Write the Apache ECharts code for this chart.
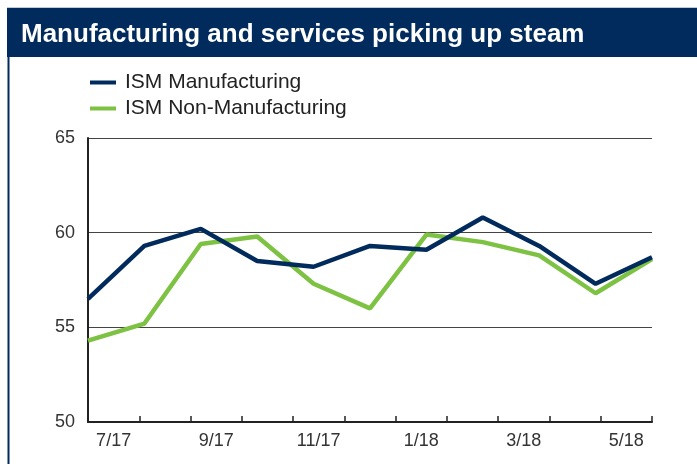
<!DOCTYPE html>
<html>
<head>
<meta charset="utf-8">
<script src="https://cdn.jsdelivr.net/npm/echarts@6/dist/echarts.min.js"></script>
<style>
html,body{margin:0;padding:0;background:#fff;}
#chart{width:697px;height:464px;}
</style>
</head>
<body>
<div id="chart"></div>
<script>
const titleText = 'Manufacturing and services picking up steam';
const categories = ['7/17','8/17','9/17','10/17','11/17','12/17','1/18','2/18','3/18','4/18','5/18'];
const seriesNames = ['ISM Manufacturing','ISM Non-Manufacturing'];
const manufacturing = [56.5, 59.3, 60.2, 58.5, 58.2, 59.3, 59.1, 60.8, 59.3, 57.3, 58.7];
const nonManufacturing = [54.3, 55.2, 59.4, 59.8, 57.3, 56.0, 59.9, 59.5, 58.8, 56.8, 58.6];
const yTicks = [50, 55, 60, 65];

const navy = '#002b5c';
const green = '#7dc242';
const font = '"Liberation Sans", Arial, sans-serif';

const chart = echarts.init(document.getElementById('chart'));
chart.setOption({
  animation: false,
  backgroundColor: '#fff',
  graphic: [
    {type:'rect', shape:{x:7,y:7,width:690,height:50}, style:{fill:navy}},
    {type:'line', shape:{x1:7,y1:7.5,x2:697,y2:7.5}, style:{stroke:'#c3cad5',lineWidth:1}},
    {type:'line', shape:{x1:8.5,y1:57,x2:8.5,y2:464}, style:{stroke:navy,lineWidth:2}},
    {type:'text', x:21, y:35, scaleX:1.04, style:{text:titleText, fill:'#fff', font:'bold 25px ' + font, textVerticalAlign:'middle'}}
  ],
  legend: {
    orient:'vertical', left:90, top:72, padding:0,
    itemWidth:26, itemHeight:4, itemGap:5, icon:'rect',
    textStyle:{fontFamily:font, fontSize:21, color:'#222', lineHeight:21, padding:[0,0,0,4]},
    data: seriesNames
  },
  grid: {left:88, right:45, top:138, bottom:42, containLabel:false},
  xAxis: [
    {
      type:'category', data:categories, boundaryGap:true,
      axisLine:{lineStyle:{color:'#222', width:2}},
      axisTick:{show:true, inside:true, length:6, interval:0, lineStyle:{color:'#222', width:1.5}},
      axisLabel:{interval:1, fontFamily:font, fontSize:18, color:'#333', margin:10},
      splitLine:{show:false}
    },
    {
      type:'category', data:categories, boundaryGap:false, show:false,
      position:'bottom'
    }
  ],
  yAxis: {
    type:'value', min:yTicks[0], max:yTicks[yTicks.length-1], interval:5,
    axisLine:{show:true, lineStyle:{color:'#222', width:2}},
    axisTick:{show:false},
    axisLabel:{fontFamily:font, fontSize:18, color:'#333', margin:13},
    splitLine:{show:true, lineStyle:{color:'#444', width:1}}
  },
  series: [
    {name:seriesNames[0], type:'line', xAxisIndex:1, data:manufacturing, symbol:'none',
     lineStyle:{color:navy, width:4.5}, itemStyle:{color:navy}, z:3},
    {name:seriesNames[1], type:'line', xAxisIndex:1, data:nonManufacturing, symbol:'none',
     lineStyle:{color:green, width:4.5}, itemStyle:{color:green}, z:2}
  ]
});
</script>
</body>
</html>
